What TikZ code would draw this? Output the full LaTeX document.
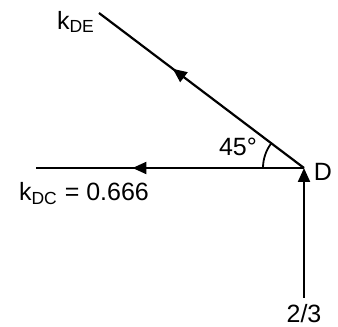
\documentclass[tikz,border=0pt]{standalone}
\usepackage{fontspec}
\setmainfont{Liberation Sans}
\usetikzlibrary{arrows.meta,positioning,calc,decorations.markings,angles}
\tikzset{
  mbr/.style={line width=1.1pt},
  midarr/.style={mbr,postaction={decorate},decoration={markings,
      mark=at position #1 with {\arrow{Triangle[length=7pt,width=6pt]}}}},
  endarr/.style={mbr,-{Triangle[length=7pt,width=6pt]}},
  lbl/.style={font=\fontsize{12.5}{14}\selectfont,inner sep=1pt}
}

\begin{document}
\begin{tikzpicture}[x=0.5pt,y=0.5pt]
  \useasboundingbox (0,0) rectangle (338,327);
  \coordinate (D) at (304,159);
  \coordinate (E) at (99,314);
  \coordinate (C) at (36,159);
  \coordinate (B) at (304,29);

  \draw[midarr=0.64] (D)--(E);
  \draw[midarr=0.64] (D)--(C);
  \draw[endarr] (B)--(D);
  \pic[draw,line width=0.9pt,angle radius=20.5pt] {angle=E--D--C};

  \node[lbl] (kde) at (76,305) {k\textsubscript{DE}};
  \node[lbl] (ang) at (238,180) {45\textdegree};
  \node[lbl] (dlbl) at (323,155) {D};
  \node[lbl] (kdc) at (84,133) {k\textsubscript{DC} = 0.666};
  \node[lbl] (far) at (304,13) {2/3};
\end{tikzpicture}
\end{document}
